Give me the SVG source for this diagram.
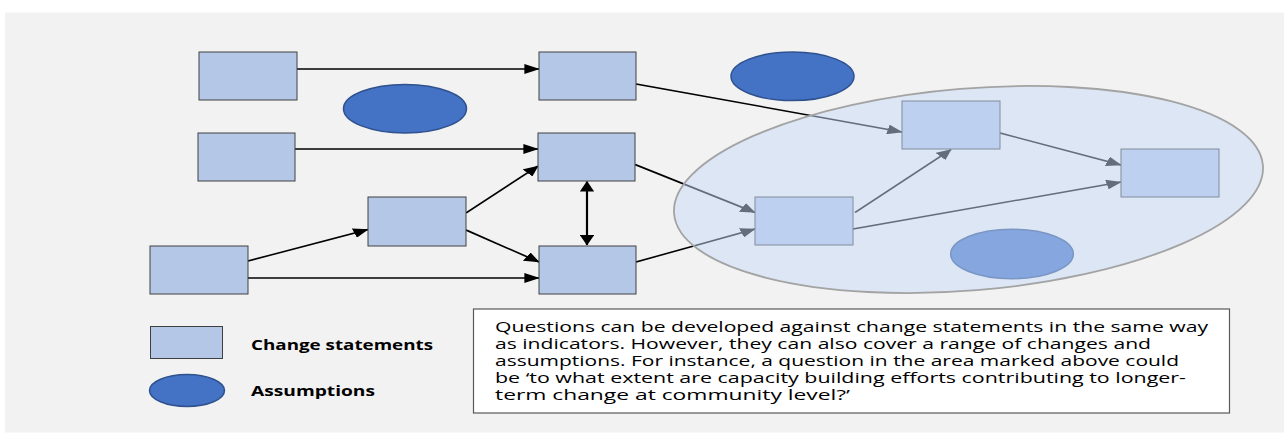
<svg xmlns="http://www.w3.org/2000/svg" width="1284" height="433" viewBox="0 0 1284 433">
  <style>
    .change { fill: #b4c7e7; stroke: #404040; stroke-width: 1; }
    .assume { fill: #4472c4; stroke: #2f528f; stroke-width: 1.5; }
    .link { fill: none; stroke: #000000; stroke-width: 1.5; }
    .legend { font-family: "Open Sans", "Liberation Sans", sans-serif; font-size: 14px; font-weight: bold; fill: #000000; }
    .body { font-family: "Open Sans", "Liberation Sans", sans-serif; font-size: 14px; fill: #000000; }
  </style>
  <defs>
    <marker id="head" viewBox="0 0 10.5 9.8" markerWidth="10.5" markerHeight="9.8" refX="10" refY="4.9" markerUnits="userSpaceOnUse" orient="auto-start-reverse">
      <path d="M0,0 L10.5,4.9 L0,9.8 Z" fill="#000000"/>
    </marker>
  </defs>

  <!-- page background -->
  <rect x="0" y="0" width="1284" height="433" fill="#ffffff"/>
  <rect x="5" y="12.5" width="1279" height="420" fill="#f2f2f2"/>

  <!-- connectors: laid out in narrow units and widened 1.46x across the page -->
  <g id="connectors" transform="scale(1.46 1)">
    <line class="link" x1="203.42" y1="69" x2="369.18" y2="69" marker-end="url(#head)"/>
    <line class="link" x1="202.05" y1="149" x2="368.49" y2="149" marker-end="url(#head)"/>
    <line class="link" x1="169.86" y1="278" x2="369.18" y2="278" marker-end="url(#head)"/>
    <line class="link" x1="169.86" y1="261" x2="252.05" y2="229.5" marker-end="url(#head)"/>
    <line class="link" x1="319.18" y1="213" x2="368.49" y2="166" marker-end="url(#head)"/>
    <line class="link" x1="319.18" y1="230" x2="369.18" y2="262" marker-end="url(#head)"/>
    <line class="link" x1="402.05" y1="181.5" x2="402.05" y2="245" marker-start="url(#head)" marker-end="url(#head)"/>
    <line class="link" x1="435.62" y1="84" x2="617.81" y2="132" marker-end="url(#head)"/>
    <line class="link" x1="434.93" y1="164.5" x2="517.12" y2="212.5" marker-end="url(#head)"/>
    <line class="link" x1="435.62" y1="262" x2="517.12" y2="229" marker-end="url(#head)"/>
    <line class="link" x1="585.62" y1="212.5" x2="651.37" y2="149.5" marker-end="url(#head)"/>
    <line class="link" x1="584.25" y1="229" x2="767.81" y2="182" marker-end="url(#head)"/>
    <line class="link" x1="684.93" y1="133" x2="767.81" y2="165" marker-end="url(#head)"/>
  </g>

  <!-- change statements -->
  <g id="change-a"><rect class="change" x="199" y="52" width="98" height="48"/></g>
  <g id="change-b"><rect class="change" x="198" y="133" width="97" height="48"/></g>
  <g id="change-c"><rect class="change" x="368" y="197" width="98" height="49"/></g>
  <g id="change-d"><rect class="change" x="150" y="246" width="98" height="48"/></g>
  <g id="change-e"><rect class="change" x="539" y="52" width="97" height="48"/></g>
  <g id="change-f"><rect class="change" x="538" y="133" width="97" height="48"/></g>
  <g id="change-g"><rect class="change" x="539" y="246" width="97" height="48"/></g>
  <g id="change-h"><rect class="change" x="902" y="101" width="98" height="48"/></g>
  <g id="change-i"><rect class="change" x="755" y="197" width="98" height="48"/></g>
  <g id="change-j"><rect class="change" x="1121" y="149" width="98" height="48"/></g>

  <!-- assumptions -->
  <g id="assumption-1"><ellipse class="assume" cx="405" cy="108.7" rx="61.5" ry="24.3"/></g>
  <g id="assumption-2"><ellipse class="assume" cx="792.5" cy="76.3" rx="61.5" ry="24.3"/></g>
  <g id="assumption-3"><ellipse class="assume" cx="1012" cy="254" rx="61.3" ry="24.7"/></g>

  <!-- highlighted area, translucent over the nodes beneath -->
  <g id="marked-area">
    <ellipse cx="968.5" cy="189.5" rx="295.4" ry="101" transform="rotate(-4.7 968.5 189.5)" fill="#c6daf8" fill-opacity="0.5" stroke="#a3a3a3" stroke-width="1.8"/>
  </g>

  <!-- legend -->
  <g id="legend-change">
    <rect class="change" x="150.5" y="326.5" width="72" height="32"/>
    <text class="legend" x="251" y="350" textLength="182" lengthAdjust="spacingAndGlyphs">Change statements</text>
  </g>
  <g id="legend-assumption">
    <ellipse class="assume" cx="187" cy="390.5" rx="37.5" ry="16"/>
    <text class="legend" x="251" y="396" textLength="124" lengthAdjust="spacingAndGlyphs">Assumptions</text>
  </g>

  <!-- explanatory note -->
  <g id="note">
    <rect x="473.5" y="309" width="756" height="104" fill="#ffffff" stroke="#595959" stroke-width="1.2"/>
    <text class="body" x="495" y="331.5" textLength="713" lengthAdjust="spacingAndGlyphs">Questions can be developed against change statements in the same way</text>
    <text class="body" x="495" y="348.5" textLength="656" lengthAdjust="spacingAndGlyphs">as indicators. However, they can also cover a range of changes and</text>
    <text class="body" x="495" y="365.5" textLength="684" lengthAdjust="spacingAndGlyphs">assumptions. For instance, a question in the area marked above could</text>
    <text class="body" x="495" y="382.5" textLength="691" lengthAdjust="spacingAndGlyphs">be ‘to what extent are capacity building efforts contributing to longer-</text>
    <text class="body" x="495" y="399.5" textLength="355" lengthAdjust="spacingAndGlyphs">term change at community level?’</text>
  </g>
</svg>
